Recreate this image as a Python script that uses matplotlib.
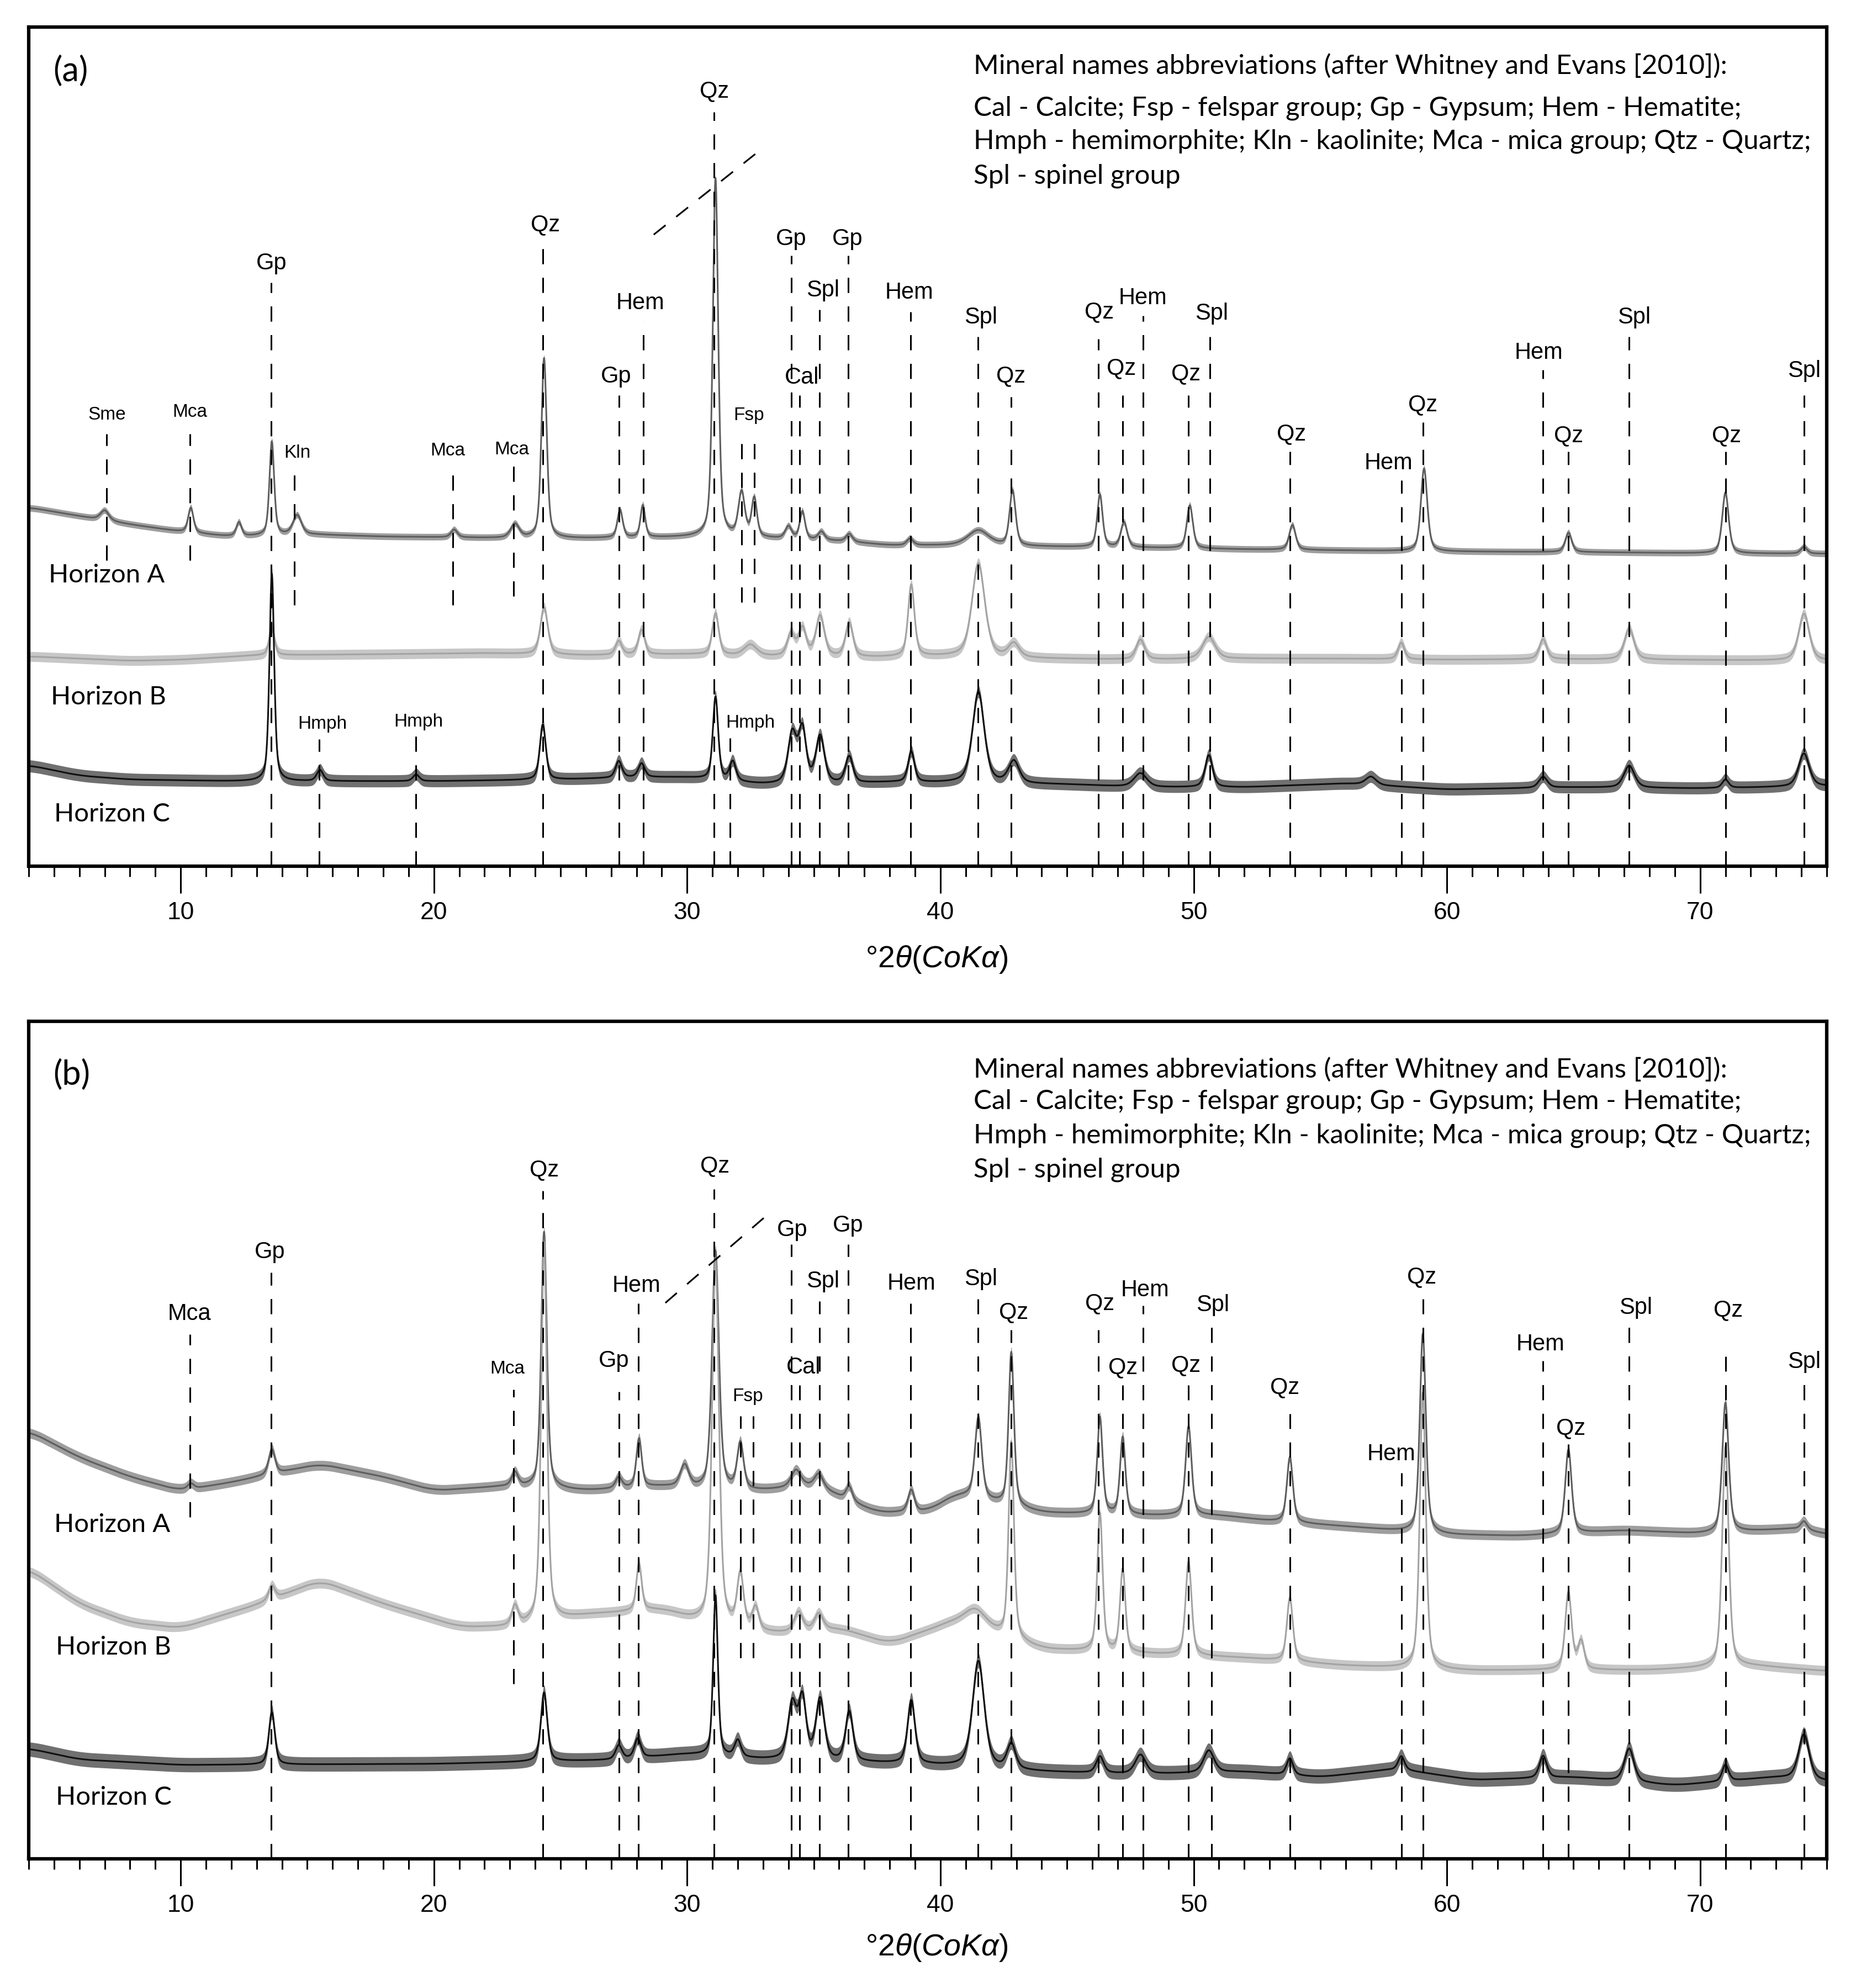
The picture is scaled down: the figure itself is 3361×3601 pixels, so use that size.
import numpy as np
import matplotlib.pyplot as plt
from matplotlib.ticker import MultipleLocator

plt.rcParams['mathtext.fontset'] = 'custom'
plt.rcParams['mathtext.rm'] = 'Liberation Sans'
plt.rcParams['mathtext.it'] = 'Liberation Sans:italic'

# scan grid, deg 2theta (CoKa)
two_theta = np.arange(4.0, 75.001, 0.01)

###########################
# panel (a) data
###########################
# background of each pattern: (2theta, counts)
a_A_base = [(4, 650), (6, 634), (8, 619), (10, 606), (12, 597), (15, 601), (18, 597), (20, 596),
            (23, 594), (26, 594), (30, 596), (33, 594), (36, 589), (38, 581), (40, 581), (44, 579),
            (48, 577), (52, 574), (56, 572), (60, 570), (65, 569), (70, 567), (75, 566)]
a_B_base = [(4, 380), (6, 376), (8, 372), (10, 374), (13, 382), (18, 384), (22, 386), (26, 382),
            (30, 384), (33, 380), (37, 378), (40, 380), (44, 376), (48, 374), (52, 376), (56, 376),
            (60, 374), (64, 375), (68, 374), (72, 373), (75, 372)]
a_C_base = [(4, 183), (6, 164), (8, 157), (12, 154), (20, 154), (25, 157), (28, 161), (30, 161),
            (33, 148), (36, 149), (38, 152), (40, 151), (45, 148), (48, 143), (52, 143), (56, 150),
            (60, 139), (65, 143), (70, 141), (75, 145)]

# reflections: (2theta, height, fwhm)
a_A_peaks = [(7.0, 18, 0.4), (10.4, 45, 0.25), (12.3, 25, 0.25), (13.6, 170, 0.22), (14.6, 35, 0.4),
             (20.8, 14, 0.3), (23.2, 25, 0.4), (24.35, 326, 0.25), (27.35, 50, 0.25), (28.25, 58, 0.22),
             (31.12, 650, 0.25), (32.15, 80, 0.3), (32.65, 70, 0.25), (34.0, 22, 0.3), (34.55, 50, 0.25),
             (35.3, 15, 0.3), (36.4, 14, 0.3), (38.8, 12, 0.3), (41.5, 28, 1.0), (42.85, 100, 0.28),
             (46.3, 95, 0.25), (47.25, 45, 0.3), (49.85, 78, 0.28), (53.9, 45, 0.3), (59.1, 150, 0.3),
             (64.8, 35, 0.3), (71.0, 110, 0.3), (74.1, 12, 0.3)]
a_B_peaks = [(13.6, 50, 0.25), (24.35, 85, 0.35), (27.3, 25, 0.3), (28.2, 45, 0.3), (31.12, 75, 0.3),
             (32.5, 20, 0.6), (34.1, 40, 0.35), (34.55, 50, 0.35), (35.25, 73, 0.4), (36.4, 62, 0.35),
             (38.85, 130, 0.3), (41.5, 170, 0.6), (42.9, 25, 0.5), (47.9, 36, 0.4), (50.6, 40, 0.6),
             (58.2, 30, 0.3), (63.8, 36, 0.35), (67.2, 56, 0.45), (74.1, 85, 0.5)]
a_C_peaks = [(13.6, 376, 0.22), (15.5, 20, 0.3), (19.3, 12, 0.3), (24.3, 100, 0.28), (27.3, 30, 0.3),
             (28.2, 25, 0.3), (31.12, 150, 0.25), (31.8, 35, 0.3), (34.15, 90, 0.4), (34.55, 95, 0.35),
             (35.25, 85, 0.4), (36.4, 48, 0.35), (38.85, 55, 0.3), (41.5, 165, 0.55), (42.9, 40, 0.5),
             (47.9, 25, 0.6), (50.6, 58, 0.35), (57.0, 15, 0.5), (63.8, 20, 0.4), (67.2, 40, 0.5),
             (71.0, 15, 0.3), (74.1, 60, 0.5)]

# marker lines: (2theta, top, bottom) and their labels: (text, x, y, small font)
a_lines = [(7.07, 783, 554), (10.37, 783, 554), (13.58, 1057, 0), (14.48, 709, 473), (20.74, 713, 473),
           (23.14, 727, 489), (24.30, 1119, 0), (27.30, 853, 0), (28.26, 987, 0), (31.06, 1366, 0),
           (32.16, 776, 478), (32.66, 776, 478), (34.11, 1106, 0), (34.44, 853, 0), (35.22, 1008, 0),
           (36.37, 1106, 0), (38.82, 1004, 0), (41.48, 959, 0), (42.79, 850, 0), (46.24, 955, 0),
           (47.20, 853, 0), (48.00, 997, 0), (49.80, 853, 0), (50.64, 959, 0), (53.80, 751, 0),
           (58.20, 699, 0), (59.05, 804, 0), (63.80, 899, 0), (64.80, 751, 0), (67.20, 959, 0),
           (71.00, 751, 0), (74.10, 853, 0), (15.48, 230, 0), (19.28, 237, 0), (31.70, 232, 0)]
a_labels = [('Sme', 7.1, 818, True), ('Mca', 10.36, 823, True), ('Gp', 13.58, 1092, False),
            ('Kln', 14.6, 749, True), ('Mca', 20.55, 753, True), ('Mca', 23.08, 755, True),
            ('Qz', 24.4, 1162, False), ('Gp', 27.2, 887, False), ('Hem', 28.15, 1020, False),
            ('Qz', 31.08, 1404, False), ('Fsp', 32.44, 817, True), ('Gp', 34.11, 1136, False),
            ('Cal', 34.53, 885, False), ('Spl', 35.36, 1043, False), ('Gp', 36.33, 1136, False),
            ('Hem', 38.78, 1039, False), ('Spl', 41.6, 994, False), ('Qz', 42.79, 888, False),
            ('Qz', 46.28, 1004, False), ('Qz', 47.14, 902, False), ('Hem', 48.0, 1029, False),
            ('Qz', 49.7, 892, False), ('Spl', 50.7, 1001, False), ('Qz', 53.85, 783, False),
            ('Hem', 57.7, 730, False), ('Qz', 59.05, 836, False), ('Hem', 63.62, 930, False),
            ('Qz', 64.8, 780, False), ('Spl', 67.4, 994, False), ('Qz', 71.05, 780, False),
            ('Spl', 74.1, 897, False), ('Hmph', 15.6, 257, True), ('Hmph', 19.4, 261, True),
            ('Hmph', 32.5, 259, True)]
a_break = [(28.68, 1144), (32.69, 1290)]

###########################
# panel (b) data
###########################
b_A_base = [(4, 775), (6, 727), (8, 692), (10, 667), (12, 682), (15.5, 715), (18, 692), (20, 667),
            (23, 675), (26, 667), (29, 675), (31, 667), (33, 667), (35, 677), (37.5, 627), (39.5, 629),
            (40.7, 662), (42, 647), (44, 627), (48, 622), (51, 622), (53, 612), (56, 602), (60, 587),
            (63, 585), (67, 595), (70, 589), (74, 599), (75, 587)]
b_B_base = [(4, 525), (6, 462), (8, 428), (10, 418), (13, 460), (15.5, 504), (18, 462), (21, 420),
            (23, 420), (26, 442), (29, 452), (30.5, 428), (33.5, 408), (36, 417), (38, 390), (40.7, 432),
            (42, 412), (44, 380), (48, 372), (52, 364), (56, 350), (61, 341), (64, 342), (68, 342),
            (72, 350), (75, 340)]
b_C_base = [(4, 200), (6, 180), (10, 170), (20, 172), (27, 179), (30, 190), (33, 180), (37.5, 174),
            (40, 169), (44, 158), (48, 153), (52, 158), (55, 148), (58, 163), (61, 143), (65, 148),
            (69, 133), (73, 148), (75, 140)]

b_A_peaks = [(10.4, 10, 0.3), (13.6, 45, 0.3), (23.2, 25, 0.3), (24.35, 464, 0.26), (27.3, 20, 0.3),
             (28.1, 88, 0.25), (29.9, 40, 0.4), (31.12, 433, 0.32), (32.1, 84, 0.3), (34.3, 30, 0.45),
             (35.2, 25, 0.4), (36.4, 25, 0.3), (38.85, 40, 0.3), (41.5, 146, 0.32), (42.8, 278, 0.25),
             (46.3, 175, 0.25), (47.2, 140, 0.25), (49.8, 161, 0.28), (53.8, 118, 0.28),
             (59.05, 361, 0.28), (64.8, 152, 0.3), (71.0, 235, 0.3), (74.1, 15, 0.3)]
b_B_peaks = [(13.6, 25, 0.3), (23.2, 35, 0.3), (24.35, 687, 0.27), (28.1, 85, 0.25), (31.12, 660, 0.32),
             (32.1, 95, 0.3), (32.7, 40, 0.3), (34.4, 35, 0.4), (35.2, 30, 0.4), (41.4, 30, 1.0),
             (42.8, 355, 0.25), (46.3, 250, 0.25), (47.2, 150, 0.25), (49.8, 170, 0.28),
             (53.8, 115, 0.28), (59.05, 500, 0.28), (64.8, 140, 0.3), (65.3, 50, 0.3), (71.0, 400, 0.3)]
b_C_peaks = [(13.6, 95, 0.28), (24.35, 125, 0.3), (27.3, 25, 0.3), (28.05, 35, 0.3), (31.12, 290, 0.22),
             (32.0, 30, 0.3), (34.15, 100, 0.4), (34.55, 107, 0.35), (35.25, 110, 0.4), (36.4, 90, 0.35),
             (38.85, 115, 0.35), (41.5, 193, 0.55), (42.8, 45, 0.4), (46.3, 30, 0.35), (47.9, 35, 0.5),
             (50.6, 40, 0.5), (53.8, 30, 0.3), (58.2, 25, 0.3), (63.8, 40, 0.35), (67.2, 60, 0.45),
             (71.0, 30, 0.3), (74.1, 82, 0.5)]

b_lines = [(10.37, 950, 619), (13.58, 1062, 0), (23.14, 850, 317), (24.30, 1210, 0), (27.30, 846, 0),
           (28.07, 1006, 0), (31.06, 1213, 0), (32.10, 802, 364), (32.60, 802, 364), (34.11, 1113, 0),
           (34.45, 858, 0), (35.22, 1010, 0), (36.37, 1113, 0), (38.82, 1006, 0), (41.48, 1014, 0),
           (42.79, 958, 0), (46.24, 958, 0), (47.20, 858, 0), (48.00, 1002, 0), (49.80, 858, 0),
           (50.70, 966, 0), (53.80, 806, 0), (58.20, 699, 0), (59.05, 1014, 0), (63.80, 902, 0),
           (64.80, 751, 0), (67.20, 966, 0), (71.00, 910, 0), (74.10, 866, 0)]
b_labels = [('Mca', 10.34, 987, False), ('Gp', 13.53, 1099, False), ('Mca', 22.9, 888, True),
            ('Qz', 24.35, 1248, False), ('Gp', 27.1, 902, False), ('Hem', 28.0, 1038, False),
            ('Qz', 31.1, 1255, False), ('Fsp', 32.4, 838, True), ('Gp', 34.15, 1139, False),
            ('Cal', 34.6, 890, False), ('Spl', 35.36, 1046, False), ('Gp', 36.36, 1147, False),
            ('Hem', 38.85, 1042, False), ('Spl', 41.6, 1050, False), ('Qz', 42.9, 990, False),
            ('Qz', 46.3, 1006, False), ('Qz', 47.2, 890, False), ('Hem', 48.07, 1030, False),
            ('Qz', 49.7, 894, False), ('Spl', 50.75, 1003, False), ('Qz', 53.6, 854, False),
            ('Hem', 57.8, 733, False), ('Qz', 59.0, 1054, False), ('Hem', 63.7, 932, False),
            ('Qz', 64.9, 780, False), ('Spl', 67.45, 998, False), ('Qz', 71.1, 994, False),
            ('Spl', 74.1, 900, False)]
b_break = [(29.14, 1007), (33.13, 1165)]

# horizon names: (text, x, y)
a_horizons = [('Horizon A', 4.78, 527), ('Horizon B', 4.87, 306), ('Horizon C', 5.0, 94)]
b_horizons = [('Horizon A', 5.0, 605), ('Horizon B', 5.06, 383), ('Horizon C', 5.06, 111)]

legend_lines = ['Mineral names abbreviations (after Whitney and Evans [2010]):',
                'Cal - Calcite; Fsp - felspar group; Gp - Gypsum; Hem - Hematite;',
                'Hmph - hemimorphite; Kln - kaolinite; Mca - mica group; Qtz - Quartz;',
                'Spl - spinel group']
a_legend_y = [1450, 1373, 1313, 1250]
b_legend_y = [1430, 1372, 1310, 1248]

colors = {'A': '#5e5e5e', 'B': '#a3a3a3', 'C': '#111111'}
label_font = ['Liberation Sans', 'DejaVu Sans']
text_font = ['Lato', 'DejaVu Sans']


def smooth(y, n):
    # running mean, edges padded
    k = np.ones(n) / n
    pad = np.concatenate([np.full(n, y[0]), y, np.full(n, y[-1])])
    return np.convolve(pad, k, mode='same')[n:-n]


def pattern(base, peaks):
    bx = [p[0] for p in base]
    by = [p[1] for p in base]
    y = smooth(np.interp(two_theta, bx, by), 120)
    for pos, h, w in peaks:
        u = (two_theta - pos) / (w / 2.0)
        y = y + h * (0.5 / (1 + u ** 2) + 0.5 * np.exp(-np.log(2) * u ** 2))
    return y


def draw_panel(ax, traces, noise, lines, labels, brk, horizons, legend_y, letter, ytop, xlab_y):
    for key in ['A', 'B', 'C']:
        y = pattern(*traces[key])
        ax.fill_between(two_theta, y - noise[key], y + noise[key], color=colors[key],
                        alpha=0.6, lw=0, zorder=2)
        ax.plot(two_theta, y, color=colors[key], lw=2.2, zorder=2)

    xs = [l[0] for l in lines]
    ax.vlines(xs, [l[2] for l in lines], [l[1] for l in lines], colors='k',
              linestyles=(0, (9, 8)), lw=2.2, zorder=3)
    for txt, x, y, small in labels:
        ax.text(x, y, txt, ha='center', va='center', fontsize=24 if small else 30,
                family=label_font, zorder=4)
    ax.plot([brk[0][0], brk[1][0]], [brk[0][1], brk[1][1]], color='k', lw=2.2,
            ls=(0, (9, 8)), zorder=3)

    for txt, x, y in horizons:
        ax.text(x, y, txt, ha='left', va='center', fontsize=34, family=text_font)
    for txt, y in zip(legend_lines, legend_y):
        ax.text(41.3, y, txt, ha='left', va='center', fontsize=35.5, family=text_font)
    ax.text(4.96, legend_y[0] - 10, letter, ha='left', va='center', fontsize=44, family=text_font)

    ax.set_xlim(4, 75)
    ax.set_ylim(0, ytop)
    ax.set_yticks([])
    ax.xaxis.set_major_locator(MultipleLocator(10))
    ax.xaxis.set_minor_locator(MultipleLocator(1))
    ax.tick_params(axis='x', which='major', direction='out', length=35, width=2.2, pad=11,
                   labelsize=32)
    ax.tick_params(axis='x', which='minor', direction='out', length=14, width=2.2)
    for lab in ax.get_xticklabels():
        lab.set_family(label_font)
    for sp in ax.spines.values():
        sp.set_linewidth(4.5)
    ax.set_xlabel(r'°2$\theta$($CoK\alpha$)', fontsize=40, family=label_font, va='center')
    ax.xaxis.set_label_coords(0.505, xlab_y)


fig = plt.figure(figsize=(33.61, 36.01), dpi=100)
ax_a = fig.add_axes([0.01547, 0.56429, 0.96876, 0.42210])
ax_b = fig.add_axes([0.01547, 0.06498, 0.96876, 0.42127])

draw_panel(ax_a,
           {'A': (a_A_base, a_A_peaks), 'B': (a_B_base, a_B_peaks), 'C': (a_C_base, a_C_peaks)},
           {'A': 6, 'B': 9, 'C': 11},
           a_lines, a_labels, a_break, a_horizons, a_legend_y, '(a)', 1520, -0.111)
draw_panel(ax_b,
           {'A': (b_A_base, b_A_peaks), 'B': (b_B_base, b_B_peaks), 'C': (b_C_base, b_C_peaks)},
           {'A': 9, 'B': 9, 'C': 13},
           b_lines, b_labels, b_break, b_horizons, b_legend_y, '(b)', 1517, -0.106)

fig.savefig('out.png', dpi=100, facecolor='white')
